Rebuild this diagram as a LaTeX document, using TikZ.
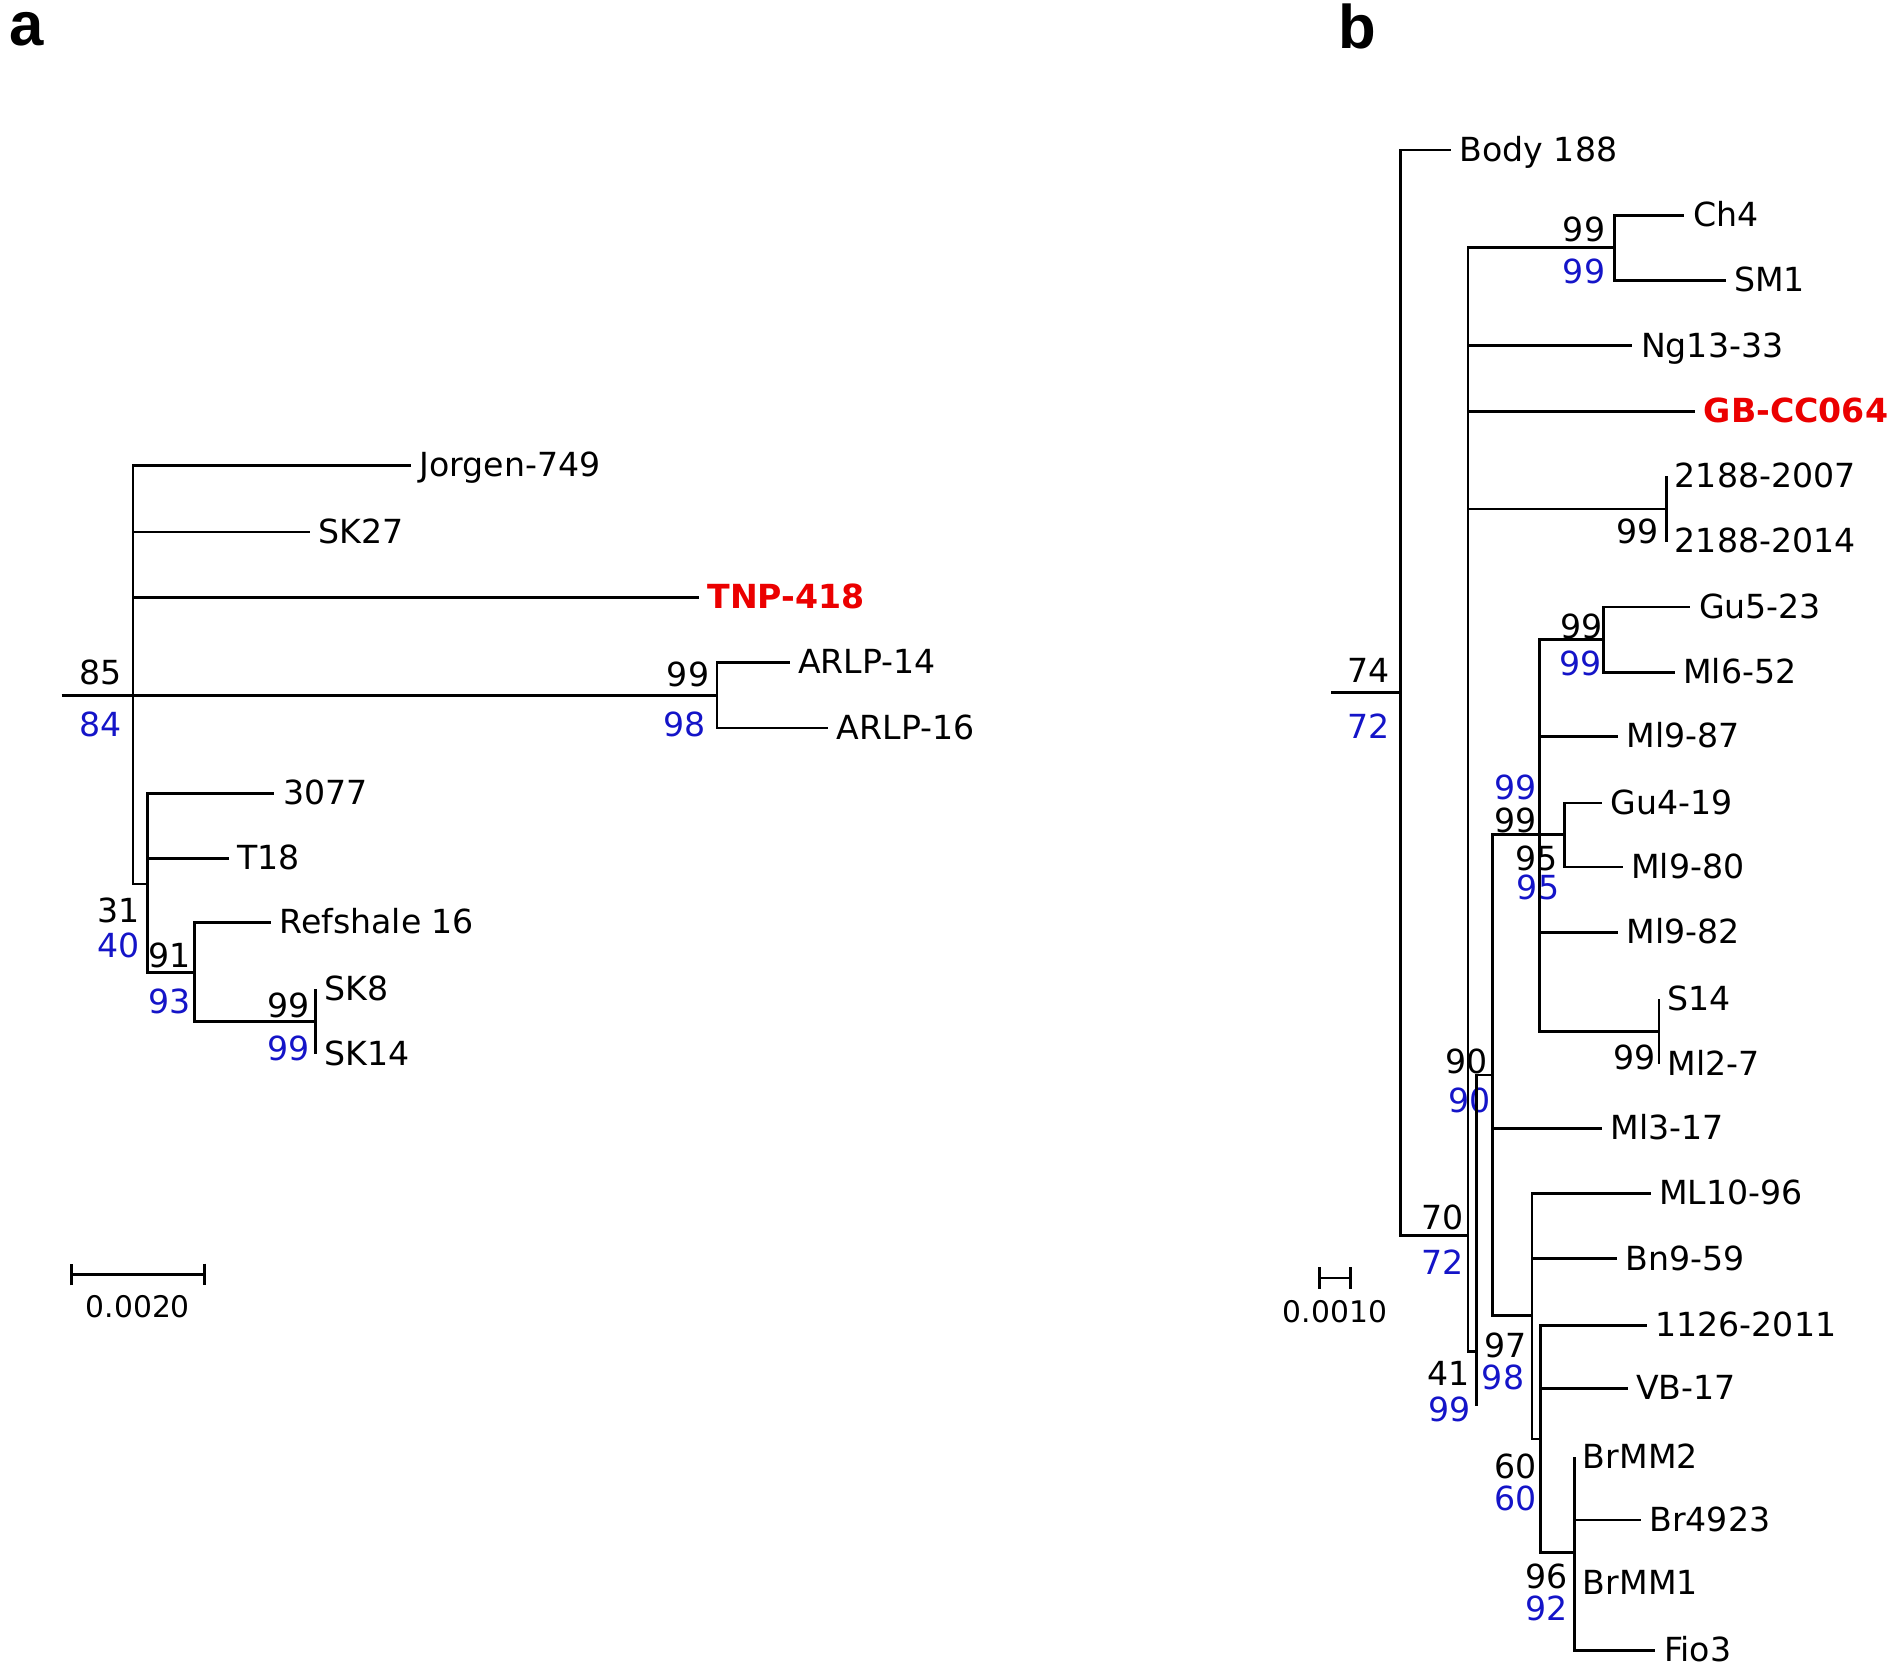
\documentclass[tikz,border=0pt]{standalone}
\usepackage{fontspec}
\setmainfont{DejaVu Sans}
\newfontfamily\panelfont{Liberation Sans}
\usetikzlibrary{arrows.meta}
\definecolor{bootblue}{RGB}{20,20,200}
\definecolor{hlred}{RGB}{235,0,0}

\begin{document}
\begin{tikzpicture}[x=0.01cm, y=-0.01cm, line width=0.65pt,
  every node/.style={font=\fontsize{7.8}{9}\selectfont, inner sep=0pt},
  leaf/.style={anchor=west, inner xsep=0.06cm, text height=0.73em, text depth=0.2em},
  hl/.style={text=hlred, font=\fontsize{7.8}{9}\selectfont\bfseries},
  bs/.style={text height=0.73em, text depth=0pt},
  bsb/.style={bs, text=bootblue},
  panel/.style={anchor=base west, font=\panelfont\fontsize{14.5}{17}\selectfont\bfseries},
  sbar/.style={{Bar[width=0.18cm]}-{Bar[width=0.18cm]}},
  sblbl/.style={font=\fontsize{7}{8}\selectfont}]
	\useasboundingbox (0,0) rectangle (1568,1376);
	
	\node (pa) at (7,38) [panel] {a};
	\node (pb) at (1106,40) [panel] {b};
	
	% tree a
	\coordinate (rootA) at (51,575);
	\coordinate (a85) at (110,575);
	\coordinate (a99) at (593,575);
	\coordinate (a31) at (122,731);
	\coordinate (a91) at (161,804);
	\coordinate (a99s) at (261,845);
	
	\node (jorgen) at (340,385) [leaf] {Jorgen-749};
	\node (sk27) at (256,440) [leaf] {SK27};
	\node (tnp) at (578,494) [leaf, hl] {TNP-418};
	\node (arlp14) at (653,548) [leaf] {ARLP-14};
	\node (arlp16) at (685,602) [leaf] {ARLP-16};
	\node (s3077) at (227,656) [leaf] {3077};
	\node (t18) at (189,710) [leaf] {T18};
	\node (refshale) at (224,763) [leaf] {Refshale 16};
	\node (sk8) at (261,818) [leaf] {SK8};
	\node (sk14) at (261,872) [leaf] {SK14};
	
	\node (a85t) at (83,553) [bs] {85};
	\node (a85b) at (83,596) [bsb] {84};
	\node (a99t) at (569,555) [bs] {99};
	\node (a99b) at (566,596) [bsb] {98};
	\node (a31t) at (98,750) [bs] {31};
	\node (a31b) at (98,779) [bsb] {40};
	\node (a91t) at (140,787) [bs] {91};
	\node (a91b) at (140,825) [bsb] {93};
	\node (a99st) at (239,829) [bs] {99};
	\node (a99sb) at (239,864) [bsb] {99};
	
	\draw (rootA) -- (a85);
	\draw (a85) |- (jorgen.west);
	\draw (a85) |- (sk27.west);
	\draw (a85) |- (tnp.west);
	\draw (a85) -- (a99);
	\draw (a85) |- (a31);
	\draw (a99) |- (arlp14.west);
	\draw (a99) |- (arlp16.west);
	\draw (a31) |- (s3077.west);
	\draw (a31) |- (t18.west);
	\draw (a31) |- (a91);
	\draw (a91) |- (refshale.west);
	\draw (a91) |- (a99s);
	\draw (a99s) -- (sk8.west);
	\draw (a99s) -- (sk14.west);
	
	\coordinate (sbA1) at (58,1054);
	\coordinate (sbA2) at (170,1054);
	\draw [sbar] (sbA1) -- (sbA2);
	\node (sbAl) at (114,1081) [sblbl] {0.0020};
	
	% tree b
	\coordinate (rootB) at (1101,573);
	\coordinate (b74) at (1158,573);
	\coordinate (b70) at (1214,1022);
	\coordinate (b99a) at (1335,205);
	\coordinate (b99c) at (1378,421);
	\coordinate (b41) at (1221,1118);
	\coordinate (b41e) at (1221,1163);
	\coordinate (b90) at (1234,889);
	\coordinate (b99b) at (1273,690);
	\coordinate (b99d) at (1326,529);
	\coordinate (b95) at (1294,690);
	\coordinate (b99e) at (1372,853);
	\coordinate (b97) at (1267,1088);
	\coordinate (b60) at (1274,1190);
	\coordinate (b96) at (1302,1284);
	
	\node (body) at (1200,124) [leaf] {Body 188};
	\node (ch4) at (1393,178) [leaf] {Ch4};
	\node (sm1) at (1427,232) [leaf] {SM1};
	\node (ng) at (1350,286) [leaf] {Ng13-33};
	\node (gb) at (1402,340) [leaf, hl] {GB-CC064};
	\node (c2007) at (1378,394) [leaf] {2188-2007};
	\node (c2014) at (1378,448) [leaf] {2188-2014};
	\node (gu523) at (1398,502) [leaf] {Gu5-23};
	\node (ml652) at (1385,556) [leaf] {Ml6-52};
	\node (ml987) at (1338,609) [leaf] {Ml9-87};
	\node (gu419) at (1325,664) [leaf] {Gu4-19};
	\node (ml980) at (1342,717) [leaf] {Ml9-80};
	\node (ml982) at (1338,771) [leaf] {Ml9-82};
	\node (s14) at (1372,826) [leaf] {S14};
	\node (ml27) at (1372,880) [leaf] {Ml2-7};
	\node (ml317) at (1325,933) [leaf] {Ml3-17};
	\node (ml1096) at (1365,987) [leaf] {ML10-96};
	\node (bn959) at (1337,1041) [leaf] {Bn9-59};
	\node (c1126) at (1362,1096) [leaf] {1126-2011};
	\node (vb17) at (1346,1148) [leaf] {VB-17};
	\node (brmm2) at (1302,1205) [leaf] {BrMM2};
	\node (br4923) at (1357,1257) [leaf] {Br4923};
	\node (brmm1) at (1302,1309) [leaf] {BrMM1};
	\node (fio3) at (1369,1365) [leaf] {Fio3};
	
	\node (b74t) at (1132,552) [bs] {74};
	\node (b74b) at (1132,598) [bsb] {72};
	\node (b99at) at (1310,187) [bs] {99};
	\node (b99ab) at (1310,222) [bsb] {99};
	\node (b99ct) at (1354,437) [bs] {99};
	\node (b70t) at (1193,1004) [bs] {70};
	\node (b70b) at (1193,1041) [bsb] {72};
	\node (b90t) at (1213,875) [bs] {90};
	\node (b90b) at (1215,907) [bsb] {90};
	\node (b41t) at (1198,1133) [bs] {41};
	\node (b41b) at (1199,1163) [bsb] {99};
	\node (b97t) at (1245,1110) [bs] {97};
	\node (b97b) at (1243,1136) [bsb] {98};
	\node (b99bb) at (1253,648) [bsb] {99};
	\node (b99bt) at (1253,676) [bs] {99};
	\node (b99dt) at (1308,515) [bs] {99};
	\node (b99db) at (1307,546) [bsb] {99};
	\node (b95t) at (1271,707) [bs] {95};
	\node (b95b) at (1272,731) [bsb] {95};
	\node (b99et) at (1352,872) [bs] {99};
	\node (b60t) at (1253,1210) [bs] {60};
	\node (b60b) at (1253,1236) [bsb] {60};
	\node (b96t) at (1279,1301) [bs] {96};
	\node (b96b) at (1279,1327) [bsb] {92};
	
	\draw (rootB) -- (b74);
	\draw (b74) |- (body.west);
	\draw (b74) |- (b70);
	\draw (b70) |- (b99a);
	\draw (b70) |- (ng.west);
	\draw (b70) |- (gb.west);
	\draw (b70) |- (b99c);
	\draw (b70) |- (b41);
	\draw (b99a) |- (ch4.west);
	\draw (b99a) |- (sm1.west);
	\draw (b99c) -- (c2007.west);
	\draw (b99c) -- (c2014.west);
	\draw (b41) -- (b41e);
	\draw (b41) |- (b90);
	\draw (b90) |- (b99b);
	\draw (b90) |- (ml317.west);
	\draw (b90) |- (b97);
	\draw (b99b) |- (b99d);
	\draw (b99b) |- (ml987.west);
	\draw (b99b) -- (b95);
	\draw (b99b) |- (ml982.west);
	\draw (b99b) |- (b99e);
	\draw (b99d) |- (gu523.west);
	\draw (b99d) |- (ml652.west);
	\draw (b95) |- (gu419.west);
	\draw (b95) |- (ml980.west);
	\draw (b99e) -- (s14.west);
	\draw (b99e) -- (ml27.west);
	\draw (b97) |- (ml1096.west);
	\draw (b97) |- (bn959.west);
	\draw (b97) |- (b60);
	\draw (b60) |- (c1126.west);
	\draw (b60) |- (vb17.west);
	\draw (b60) |- (b96);
	\draw (b96) -- (brmm2.west);
	\draw (b96) |- (br4923.west);
	\draw (b96) -- (brmm1.west);
	\draw (b96) |- (fio3.west);
	
	\coordinate (sbB1) at (1090,1057);
	\coordinate (sbB2) at (1118,1057);
	\draw [sbar] (sbB1) -- (sbB2);
	\node (sbBl) at (1104,1085) [sblbl] {0.0010};
	
\end{tikzpicture}
\end{document}
